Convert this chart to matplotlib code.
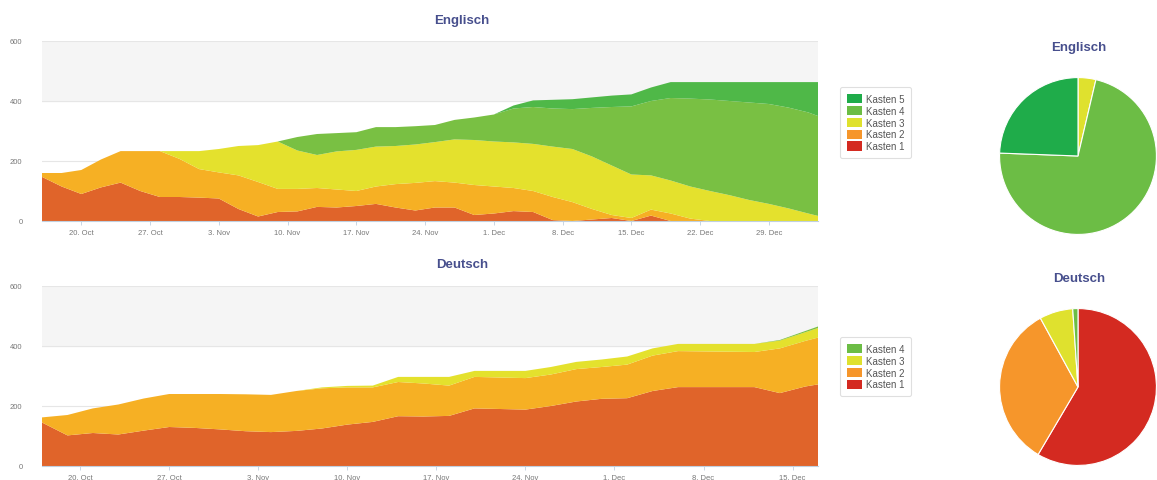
import matplotlib.pyplot as plt
from matplotlib.patches import Patch

plt.rcParams['font.family'] = ['Liberation Sans', 'DejaVu Sans']

# x = Tage ab 20. Oct
en_days = [-4, -2, 0, 2, 4, 6, 8, 10, 12, 14, 16, 18, 20, 22, 24, 26, 28, 30, 32, 34,
           36, 38, 40, 42, 44, 46, 48, 50, 52, 54, 56, 58, 60, 62, 64, 66, 68, 70, 72, 74, 75]
en_k1 = [147, 115, 90, 112, 128, 100, 80, 80, 78, 75, 40, 15, 30, 32, 47, 45, 50, 57, 45, 35,
         45, 45, 20, 25, 33, 30, 3, 0, 5, 10, 0, 18, 0, 0, 0, 0, 0, 0, 0, 0, 0]
en_k2 = [13, 45, 80, 93, 105, 133, 153, 127, 95, 87, 112, 115, 77, 75, 63, 60, 50, 58, 78, 92,
         88, 83, 100, 90, 77, 70, 77, 63, 35, 10, 10, 20, 25, 8, 0, 0, 0, 0, 0, 0, 0]
en_k3 = [0, 0, 0, 0, 0, 0, 0, 26, 60, 78, 98, 123, 158, 128, 110, 127, 137, 133, 127, 128,
         130, 144, 150, 150, 152, 157, 168, 177, 175, 165, 145, 114, 110, 107, 100, 86, 70, 57, 42, 25, 17]
en_k4 = [0, 0, 0, 0, 0, 0, 0, 0, 0, 0, 0, 0, 0, 45, 70, 61, 59, 65, 63, 61,
         57, 65, 75, 90, 113, 123, 127, 133, 162, 195, 227, 248, 275, 293, 305, 314, 325, 333, 336, 337, 333]
en_k5 = [0, 0, 0, 0, 0, 0, 0, 0, 0, 0, 0, 0, 0, 0, 0, 0, 0, 0, 0, 0,
         0, 0, 0, 0, 10, 22, 29, 33, 35, 38, 40, 45, 53, 55, 58, 63, 68, 73, 85, 101, 113]
en_ticks = ['20. Oct', '27. Oct', '3. Nov', '10. Nov', '17. Nov', '24. Nov',
            '1. Dec', '8. Dec', '15. Dec', '22. Dec', '29. Dec']

de_days = [-3, -1, 1, 3, 5, 7, 9, 11, 13, 15, 17, 19, 21, 23, 25, 27, 29, 31, 33, 35,
           37, 39, 41, 43, 45, 47, 49, 51, 53, 55, 57, 58]
de_k1 = [145, 102, 110, 105, 118, 130, 127, 122, 116, 113, 117, 125, 138, 147, 166, 165, 167, 192, 190, 188,
         200, 215, 224, 226, 250, 263, 263, 263, 263, 243, 265, 272]
de_k2 = [17, 68, 82, 100, 107, 110, 113, 118, 123, 124, 133, 134, 124, 115, 114, 110, 101, 105, 105, 105,
         105, 108, 106, 112, 118, 120, 119, 118, 117, 149, 152, 156]
de_k3 = [0, 0, 0, 0, 0, 0, 0, 0, 0, 0, 0, 3, 5, 6, 17, 22, 29, 20, 22, 24,
         25, 24, 25, 27, 24, 24, 25, 26, 27, 26, 29, 32]
de_k4 = [0, 0, 0, 0, 0, 0, 0, 0, 0, 0, 0, 0, 0, 0, 0, 0, 0, 0, 0, 0,
         0, 0, 0, 0, 0, 0, 0, 0, 0, 2, 4, 5]
de_ticks = ['20. Oct', '27. Oct', '3. Nov', '10. Nov', '17. Nov', '24. Nov',
            '1. Dec', '8. Dec', '15. Dec']

labels = ['Kasten 1', 'Kasten 2', 'Kasten 3', 'Kasten 4', 'Kasten 5']
area_colors = ['#e0642a', '#f6b024', '#e4e12d', '#79c043', '#4fb848']
pie_colors = ['#d42a21', '#f6962b', '#dfe12e', '#6cbd45', '#1fac4a']
title_color = '#474f8d'

fig = plt.figure(figsize=(11.57, 4.81), dpi=100)
W, H = 1157.0, 481.0


def area_chart(rect, days, series, ticks, title, title_y, legend_top):
    ax = fig.add_axes(rect)
    n = len(series)
    ax.axhspan(400, 600, color='#f5f5f5', zorder=0)
    for v in [200, 400, 600]:
        ax.axhline(v, color='#e6e6e6', linewidth=0.8, zorder=1)
    ax.stackplot(days, *series, colors=area_colors[:n], linewidth=0, zorder=2)
    ax.set_xlim(days[0], days[-1])
    ax.set_ylim(0, 600)
    ax.set_yticks([0, 200, 400, 600])
    ax.set_xticks([7 * i for i in range(len(ticks))])
    ax.set_xticklabels(ticks)
    ax.tick_params(axis='y', length=0, pad=14, labelsize=5.5, labelcolor='#777777')
    ax.tick_params(axis='x', length=3, width=0.6, color='#c0d0e0', pad=3,
                   labelsize=5.5, labelcolor='#777777')
    for s in ['top', 'right', 'left']:
        ax.spines[s].set_visible(False)
    ax.spines['bottom'].set_color('#c0d0e0')
    ax.spines['bottom'].set_linewidth(0.8)
    ax.set_facecolor('white')

    fig.text(462 / W, 1 - title_y / H, title, ha='center', va='center',
             fontsize=9.5, fontweight='bold', color=title_color)

    handles = [Patch(facecolor=pie_colors[i], edgecolor='none') for i in range(n)][::-1]
    leg = ax.legend(handles, labels[:n][::-1], loc='upper left',
                    bbox_to_anchor=(835 / W, 1 - legend_top / H), bbox_transform=fig.transFigure,
                    fontsize=7, handlelength=1.6, handleheight=1.1, handletextpad=0.4,
                    labelspacing=0.2, borderpad=0.7, frameon=True, fancybox=True)
    leg.get_frame().set_edgecolor('#d8d8d8')
    leg.get_frame().set_linewidth(0.8)
    for t in leg.get_texts():
        t.set_color('#555555')
    return ax


def pie_chart(rect, values, title, title_y):
    ax = fig.add_axes(rect)
    vals = [v for v in values if v > 0]
    cols = [pie_colors[i] for i, v in enumerate(values) if v > 0]
    ax.pie(vals, colors=cols, startangle=90, counterclock=False,
           wedgeprops=dict(edgecolor='white', linewidth=0.8))
    ax.set_xlim(-1.02, 1.02)
    ax.set_ylim(-1.02, 1.02)
    ax.set_aspect('equal')
    ax.axis('off')
    fig.text(1079 / W, 1 - title_y / H, title, ha='center', va='center',
             fontsize=9.5, fontweight='bold', color=title_color)


# Englisch
area_chart([42 / W, 1 - 222 / H, 776 / W, 180 / H], en_days,
           [en_k1, en_k2, en_k3, en_k4, en_k5], en_ticks, 'Englisch', 21, 83)
pie_chart([998 / W, 1 - 238 / H, 160 / W, 162 / H],
          [en_k1[-1], en_k2[-1], en_k3[-1], en_k4[-1], en_k5[-1]], 'Englisch', 48)

# Deutsch
area_chart([42 / W, 1 - 467 / H, 776 / W, 180 / H], de_days,
           [de_k1, de_k2, de_k3, de_k4], de_ticks, 'Deutsch', 265, 333)
pie_chart([998 / W, 1 - 470 / H, 160 / W, 164 / H],
          [de_k1[-1], de_k2[-1], de_k3[-1], de_k4[-1]], 'Deutsch', 279)

fig.savefig('out.png', dpi=100)
